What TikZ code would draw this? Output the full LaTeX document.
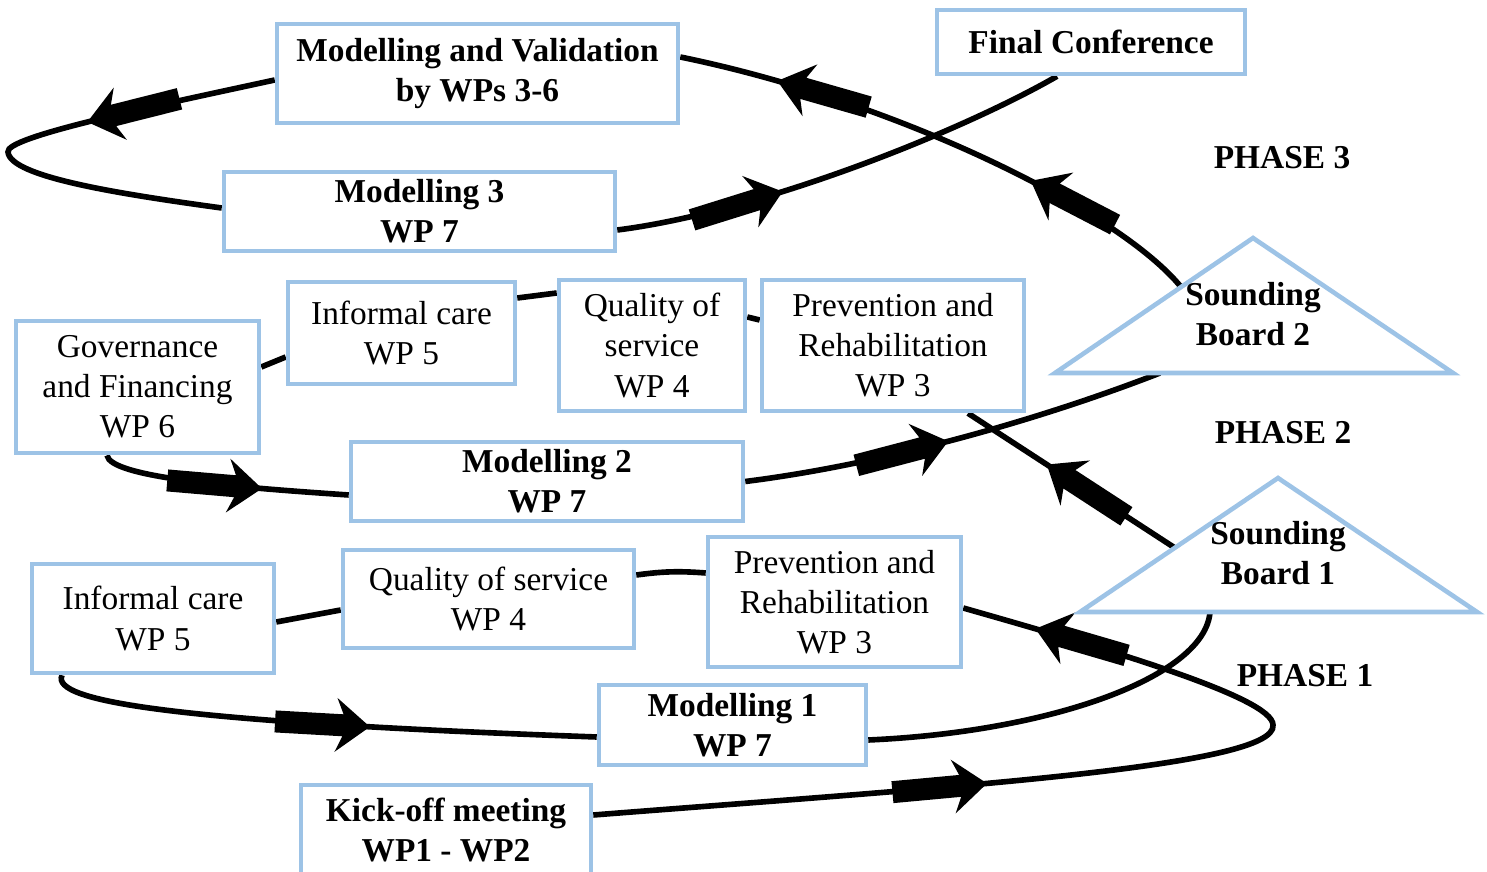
\documentclass[tikz,border=0pt]{standalone}
\usepackage{fontspec}
\setmainfont{Liberation Serif}
\usepackage{tikz}
\usetikzlibrary{decorations.markings}
\definecolor{boxblue}{RGB}{157,195,230}
\pgfdeclarelayer{background}
\pgfsetlayers{background,main}
\tikzset{
  wpbox/.style={draw=boxblue,line width=1.3pt,fill=white,align=center,inner sep=1pt,font=\fontsize{9.5}{11.4}\selectfont},
  wpbold/.style={wpbox,font=\fontsize{9.5}{11.4}\selectfont\bfseries},
  phase/.style={align=center,font=\fontsize{9.5}{11.4}\selectfont\bfseries},
  board/.style={draw=boxblue,line width=1.3pt,fill=white},
  flow/.style={line width=1.6pt},
  blockarrow/.style={postaction={decorate,decoration={markings,mark=at position #1 with {\fill (0,0) -- (-0.34,0.27) -- (-0.27,0.11) -- (-0.95,0.11) -- (-0.95,-0.11) -- (-0.27,-0.11) -- (-0.34,-0.27) -- cycle;}}}}
}
\begin{document}
\begin{tikzpicture}
\useasboundingbox (0,0) rectangle (14.87,8.72);
% phase 3
\node [wpbold,minimum width=4.01cm,minimum height=0.99cm] (mv) at(4.775,7.985){Modelling and Validation\\by WPs 3-6};
\node [wpbold,minimum width=3.08cm,minimum height=0.64cm] (fc) at(10.91,8.30){Final Conference};
\node [wpbold,minimum width=3.91cm,minimum height=0.79cm] (m3) at(4.195,6.605){Modelling 3\\WP 7};
\node [phase] (ph3) at(12.82,7.14){PHASE 3};
\coordinate (sb2l) at (10.55,4.99);
\coordinate (sb2t) at (12.53,6.34);
\coordinate (sb2r) at (14.53,4.99);
\coordinate (sb2in) at (11.60,4.99);
\coordinate (sb2out) at (11.81,5.85);
\draw [board] (sb2l) -- (sb2t) -- (sb2r) -- cycle;
\node [phase] (sb2) at(12.53,5.575){Sounding\\Board 2};
% phase 2
\node [wpbox,minimum width=2.43cm,minimum height=1.32cm] (gov) at(1.375,4.85){Governance\\and Financing\\WP 6};
\node [wpbox,minimum width=2.27cm,minimum height=1.02cm] (ic2) at(4.015,5.39){Informal care\\WP 5};
\node [wpbox,minimum width=1.86cm,minimum height=1.31cm] (qs2) at(6.52,5.265){Quality of\\service\\WP 4};
\node [wpbox,minimum width=2.62cm,minimum height=1.31cm] (pr2) at(8.93,5.265){Prevention and\\Rehabilitation\\WP 3};
\node [wpbold,minimum width=3.92cm,minimum height=0.79cm] (m2) at(5.47,3.905){Modelling 2\\WP 7};
\node [phase] (ph2) at(12.83,4.39){PHASE 2};
\coordinate (sb1l) at (10.80,2.60);
\coordinate (sb1t) at (12.78,3.94);
\coordinate (sb1r) at (14.77,2.60);
\coordinate (sb1in) at (12.10,2.60);
\coordinate (sb1out) at (11.75,3.24);
\draw [board] (sb1l) -- (sb1t) -- (sb1r) -- cycle;
\node [phase] (sb1) at(12.78,3.185){Sounding\\Board 1};
% phase 1
\node [wpbox,minimum width=2.42cm,minimum height=1.09cm] (ic1) at(1.53,2.535){Informal care\\WP 5};
\node [wpbox,minimum width=2.91cm,minimum height=0.98cm] (qs1) at(4.885,2.73){Quality of service\\WP 4};
\node [wpbox,minimum width=2.53cm,minimum height=1.30cm] (pr1) at(8.345,2.70){Prevention and\\Rehabilitation\\WP 3};
\node [phase] (ph1) at(13.05,1.96){PHASE 1};
\node [wpbold,minimum width=2.67cm,minimum height=0.80cm] (m1) at(7.325,1.47){Modelling 1\\WP 7};
\node [wpbold,minimum width=2.90cm,minimum height=0.90cm] (ko) at(4.46,0.42){Kick-off meeting\\WP1 - WP2};

\begin{pgfonlayer}{background}
\draw [flow,blockarrow=3.95cm,blockarrow=-0.75cm] ([yshift=1.5mm]ko.east) .. controls (9.5,0.85) and (12.78,1.05) .. (12.73,1.47) .. controls (12.73,1.75) and (11.0,2.25) .. ([yshift=-0.6mm]pr1.east);
\draw [flow] ([yshift=2.9mm]pr1.west) to[bend right=6] ([yshift=2.4mm]qs1.east);
\draw [flow] ([yshift=-1.1mm]qs1.west) -- ([yshift=-0.35mm]ic1.east);
\draw [flow,blockarrow=-2.27cm] ([xshift=-9.1mm]ic1.south) .. controls (0.5,1.7) and (1.8,1.5) .. ([yshift=-1.2mm]m1.west);
\draw [flow] ([yshift=-1.5mm]m1.east) .. controls (10.5,1.4) and (12.05,1.95) .. (sb1in);

\draw [flow,blockarrow=1.53cm] (sb1out) -- ([xshift=7.5mm]pr2.south);
\draw [flow] ([yshift=2.55mm]pr2.west) -- ([yshift=2.85mm]qs2.east);
\draw [flow] ([yshift=5.25mm]qs2.west) -- ([yshift=3.5mm]ic2.east);
\draw [flow] ([yshift=-2.4mm]ic2.west) -- ([yshift=2mm]gov.east);
\draw [flow,blockarrow=-0.87cm] ([xshift=-3.05mm]gov.south) .. controls (1.1,3.95) and (2.3,3.85) .. ([yshift=-1.35mm]m2.west);
\draw [flow,blockarrow=2.07cm] (m2.east) .. controls (9.0,4.1) and (10.6,4.6) .. (sb2in);

\draw [flow,blockarrow=1.85cm,blockarrow=-1.0cm] (sb2out) .. controls (11.2,6.6) and (9.0,7.7) .. ([yshift=1.65mm]mv.east);
\draw [flow,blockarrow=1.92cm] ([yshift=-0.65mm]mv.west) .. controls (1.5,7.65) and (0.05,7.35) .. (0.08,7.2) .. controls (0.1,6.95) and (1.2,6.78) .. ([yshift=0.35mm]m3.west);
\draw [flow,blockarrow=1.70cm] ([yshift=-1.85mm]m3.east) .. controls (7.6,6.6) and (9.6,7.4) .. ([xshift=-3.4mm]fc.south);
\end{pgfonlayer}
\end{tikzpicture}
\end{document}
